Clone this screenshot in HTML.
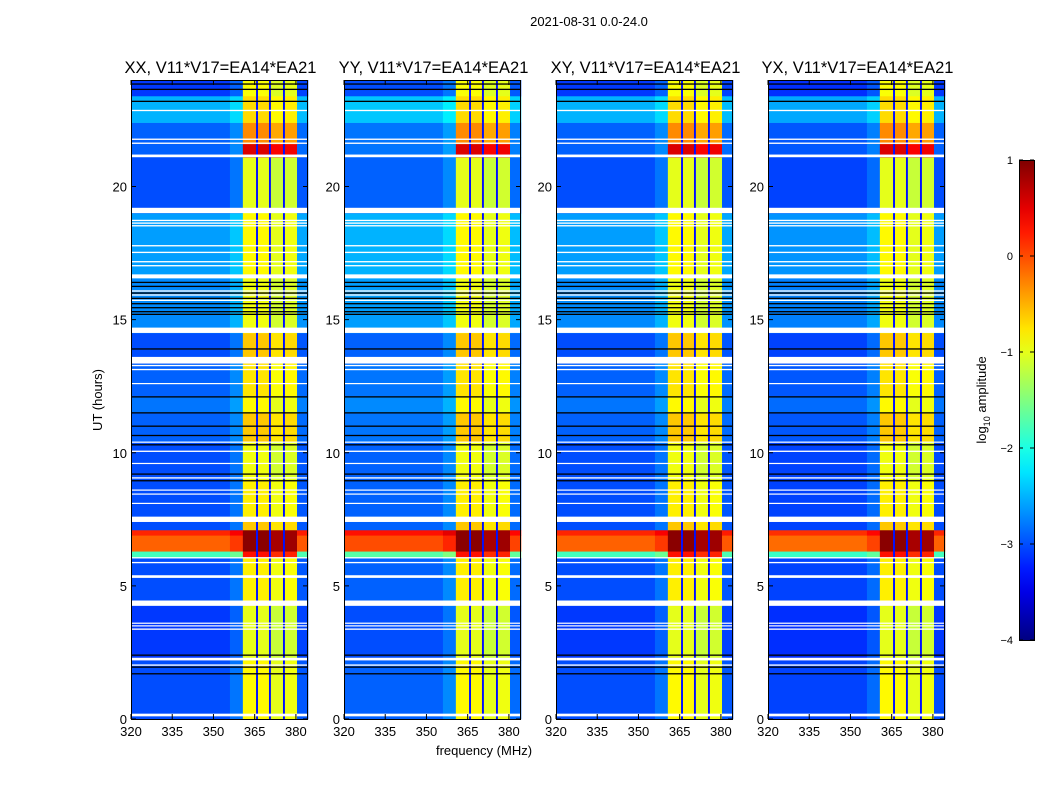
<!DOCTYPE html>
<html><head><meta charset="utf-8"><style>
body{margin:0;background:#fff;}
svg{display:block;font-family:"Liberation Sans",sans-serif;}
</style></head><body>
<svg id="chart" width="1050" height="800"></svg>
<script>
const panelTitles=["XX, V11*V17=EA14*EA21","YY, V11*V17=EA14*EA21","XY, V11*V17=EA14*EA21","YX, V11*V17=EA14*EA21"];
const panelOffsets=[0,0.1,0,-0.05];
const xTicks=[320,335,350,365,380];
const yTicks=[0,5,10,15,20];
const cbTicks=[1,0,-1,-2,-3,-4];
const cbTickLabels=["1","0","\u22121","\u22122","\u22123","\u22124"];
// frequency segments: [startMHz,endMHz,kind,offset]
const freqSegs=[[320,356,"bg",0],[356,360.7,"bg",0.2],[360.7,365.5,"band",0],[365.5,366.2,"gap",0],[366.2,370.2,"band",0],[370.2,370.9,"gap",0],[370.9,375.3,"band",-0.15],[375.3,376,"gap",0],[376,380.4,"band",-0.1],[380.4,384.4,"bg",0.05]];
// time segments: [h0,h1,bgLevel,bandLevel]
const timeSegs=[[0,2.2,-3.0,-0.85],[2.2,4.25,-3.1,-1.0],[4.25,6.05,-3.0,-0.8],[6.05,6.3,-1.8,0.3],[6.3,6.9,-0.1,0.95],[6.9,7.1,0.2,0.95],[7.1,7.6,-3.0,-0.6],[7.6,9,-3.0,-0.8],[9,10.4,-3.0,-0.95],[10.4,11.5,-2.9,-0.6],[11.5,12.1,-2.8,-0.85],[12.1,13.35,-2.9,-0.75],[13.35,14.5,-3.0,-0.6],[14.5,16.55,-2.7,-0.95],[16.55,19,-2.6,-0.85],[19,21.1,-3.0,-1.0],[21.1,21.6,-2.9,0.55],[21.6,22.4,-2.9,-0.3],[22.4,23.4,-2.5,-0.7],[23.4,24,-3.1,-0.9]];
const whiteFlags=[[0.1,0.2],[2.0,2.05],[2.2,2.3],[3.35,3.4],[3.48,3.52],[3.58,3.62],[4.25,4.45],[5.3,5.4],[5.85,5.9],[6.03,6.08],[7.4,7.6],[8.08,8.12],[8.43,8.47],[8.58,8.62],[9.03,9.08],[9.58,9.62],[10.03,10.08],[10.38,10.42],[12.58,12.62],[13.1,13.15],[13.25,13.3],[13.35,13.6],[14.5,14.7],[15.7,15.75],[15.9,15.95],[16.05,16.1],[16.55,16.7],[17.0,17.05],[17.15,17.2],[17.5,17.55],[17.75,17.8],[18.5,18.55],[18.6,18.65],[18.7,18.75],[19.0,19.2],[21.1,21.2],[21.6,21.65],[21.75,21.8],[22.83,22.88]];
const blackFlags=[1.7,1.95,2.4,8.95,9.2,10.3,10.65,11.0,11.5,12.1,13.9,15.2,15.3,15.45,15.6,15.8,16.0,16.25,16.4,23.2,23.65,23.85];
const panelX=[131,344,556,768];
const PW=177,PT=80,PB=719;
const svg=document.getElementById('chart');
const NS="http://www.w3.org/2000/svg";
function mk(tag,attrs,parent){const e=document.createElementNS(NS,tag);for(const k in attrs)e.setAttribute(k,attrs[k]);(parent||svg).appendChild(e);return e;}
function jet(v){let t=(v+4)/5;t=Math.max(0,Math.min(1,t));
 const c=x=>Math.max(0,Math.min(1,x));
 const r=c(1.5-Math.abs(4*t-3)),g=c(1.5-Math.abs(4*t-2)),b=c(1.5-Math.abs(4*t-1));
 return `rgb(${Math.round(r*255)},${Math.round(g*255)},${Math.round(b*255)})`;}
const xScale=(x0,f)=>x0+(f-320)*(PW/64.4);
const yScale=h=>PB-h*((PB-PT)/24);
let t=mk('text',{x:589,y:26,'text-anchor':'middle','font-size':13});
t.textContent="2021-08-31 0.0-24.0";

panelX.forEach((x0,p)=>{
 const g=mk('g',{});
 
 
 timeSegs.forEach(ts=>{freqSegs.forEach(fs=>{
  let v;
  if(fs[2]==="gap")v=-3.3;else if(fs[2]==="band")v=ts[3]+fs[3];else v=ts[2]+fs[3]+panelOffsets[p];
  const r=mk('rect',{x:xScale(x0,fs[0]),y:yScale(ts[1]),width:xScale(x0,fs[1])-xScale(x0,fs[0])+0.3,height:yScale(ts[0])-yScale(ts[1])+0.3,fill:jet(v)},g);
  
  
 });});
 whiteFlags.forEach(w=>{const r=mk('rect',{x:x0,y:yScale(w[1]),width:PW,height:Math.max(1.2,yScale(w[0])-yScale(w[1])),fill:'#fff'},g);
  });
 blackFlags.forEach(b=>{const r=mk('rect',{x:x0,y:yScale(b)-0.6,width:PW,height:1.3,fill:'#000'},g);
  });
 const fr=mk('rect',{x:x0+0.5,y:PT+0.5,width:PW-1,height:PB-PT,fill:'none',stroke:'#000'},g);
 
 xTicks.forEach(v=>{const xx=xScale(x0,v);
  mk('line',{x1:xx,x2:xx,y1:PB,y2:PB-5,stroke:'#000'},g);mk('line',{x1:xx,x2:xx,y1:PT,y2:PT+5,stroke:'#000'},g);
  const l=mk('text',{x:xx,y:PB+17,'text-anchor':'middle','font-size':13},g);l.textContent=v;
  });
 yTicks.forEach(v=>{const yy=yScale(v);
  mk('line',{x1:x0,x2:x0+5,y1:yy,y2:yy,stroke:'#000'},g);mk('line',{x1:x0+PW,x2:x0+PW-5,y1:yy,y2:yy,stroke:'#000'},g);
  const l=mk('text',{x:x0-4,y:yy+5,'text-anchor':'end','font-size':13},g);l.textContent=v;
  });
 const tt=mk('text',{x:x0+PW/2+1,y:73,'text-anchor':'middle','font-size':16.5},g);tt.textContent=panelTitles[p];
 
});
let xl=mk('text',{x:484,y:755,'text-anchor':'middle','font-size':13});xl.textContent="frequency (MHz)";

let yl=mk('text',{x:0,y:0,'text-anchor':'middle','font-size':13,transform:'translate(102,400) rotate(-90)'});yl.textContent="UT (hours)";

// colorbar
const cb=mk('g',{});

const defs=mk('defs',{});const lg=mk('linearGradient',{id:'jetg',x1:0,y1:1,x2:0,y2:0},defs);
for(let i=0;i<=20;i++){mk('stop',{offset:i/20,'stop-color':jet(-4+5*i/20)},lg);}
mk('rect',{x:1019.5,y:160.5,width:15,height:480,fill:'url(#jetg)',stroke:'#000'},cb);
cbTicks.forEach((v,i)=>{const yy=640-(v+4)*96;
 mk('line',{x1:1019,x2:1023,y1:yy,y2:yy,stroke:'#000'},cb);mk('line',{x1:1034,x2:1030,y1:yy,y2:yy,stroke:'#000'},cb);
 const l=mk('text',{x:1013,y:yy+4,'text-anchor':'end','font-size':11},cb);l.textContent=cbTickLabels[i];
 });
let cl=mk('text',{x:0,y:0,'text-anchor':'middle','font-size':13,transform:'translate(986,400) rotate(-90)'});
cl.innerHTML='log<tspan font-size="9" dy="4">10</tspan><tspan dy="-4"> amplitude</tspan>';

</script>
</body></html>
